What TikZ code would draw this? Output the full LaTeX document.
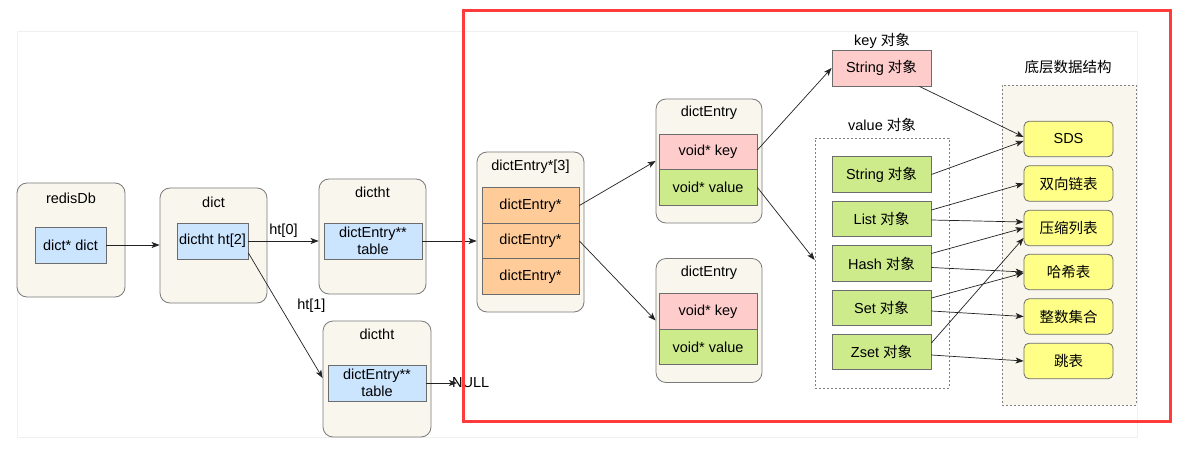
\documentclass[tikz,border=0pt]{standalone}
\usepackage{fontspec}
\setmainfont{Liberation Sans}
\newfontfamily\cjk{Noto Sans CJK SC}
\usepackage{xcolor}
\usetikzlibrary{positioning, arrows.meta}

\definecolor{boxbg}{HTML}{F9F7ED}
\definecolor{boxline}{HTML}{7A7A7A}
\definecolor{cellline}{HTML}{6C6C6C}
\definecolor{cellblue}{HTML}{CCE5FF}
\definecolor{cellorange}{HTML}{FFCC99}
\definecolor{cellpink}{HTML}{FFCCCC}
\definecolor{cellgreen}{HTML}{CDEB8B}
\definecolor{cellyellow}{HTML}{FFFF88}
\definecolor{linec}{HTML}{222222}
\definecolor{redframe}{HTML}{FF3B3B}

\newcommand{\dxiang}{{\cjk 对象}}

\begin{document}
\begin{tikzpicture}[x=1pt, y=-1pt, font=\fontsize{14.5}{17}\selectfont,
	frame/.style={draw=boxline, fill=boxbg, rounded corners=10pt, line width=0.8pt},
	cell/.style={draw=cellline, line width=0.8pt, inner sep=0pt, align=center},
	title/.style={inner sep=1pt},
	dbox/.style={draw=gray, dash pattern=on 2pt off 2pt, line width=0.8pt},
	arr/.style={draw=linec, line width=0.7pt, -{Stealth[length=8pt, width=6pt, inset=2pt]}}]
	\useasboundingbox (0,0) rectangle (1191,465);
	\fill[white] (0,0) rectangle (1191,465);
	\draw[black!6, fill=white, line width=1pt] (17,32) rectangle (1137,437);

	% redisDb / dict
	\node[frame, minimum width=108pt, minimum height=114pt] (redisdb) at (71,240) {};
	\node[title] (redisdbT) at (71,198) {redisDb};
	\node[cell, fill=cellblue, minimum width=71pt, minimum height=36pt] (dictptr) at (70.5,245) {dict* dict};

	\node[frame, minimum width=107pt, minimum height=115pt] (dict) at (213.5,245.5) {};
	\node[title] (dictT) at (213.5,202) {dict};
	\node[cell, fill=cellblue, minimum width=71pt, minimum height=36pt] (ht) at (212.5,241) {dictht ht[2]};

	% dictht
	\node[frame, minimum width=107pt, minimum height=115pt] (dictht0) at (372.5,236.5) {};
	\node[title] (dictht0T) at (372.5,192) {dictht};
	\node[cell, fill=cellblue, minimum width=98pt, minimum height=36pt] (table0) at (373,241) {dictEntry**\\table};

	\node[frame, minimum width=108pt, minimum height=116pt] (dictht1) at (377,379) {};
	\node[title] (dictht1T) at (377,334) {dictht};
	\node[cell, fill=cellblue, minimum width=98pt, minimum height=36pt] (table1) at (377,383) {dictEntry**\\table};
	\node[inner sep=0pt, anchor=west] (null) at (452,383) {NULL};

	% dictEntry*[3]
	\node[frame, minimum width=107pt, minimum height=160pt] (entries) at (530.5,232) {};
	\node[title] (entriesT) at (530.5,167) {dictEntry*[3]};
	\foreach \i/\y in {1/205.5, 2/241, 3/276.5}
		\node[cell, fill=cellorange, minimum width=97pt, minimum height=35.5pt] (slot\i) at (530.5,\y) {dictEntry*};

	% dictEntry
	\foreach \n/\y in {A/0, B/159.5} {
		\node[frame, minimum width=106pt, minimum height=124pt] (ent\n) at (709,161+\y) {};
		\node[title] (ent\n T) at (709,113+\y) {dictEntry};
		\node[cell, fill=cellpink, minimum width=98pt, minimum height=35.5pt] (key\n) at (708,152+\y) {void* key};
		\node[cell, fill=cellgreen, minimum width=98pt, minimum height=35.5pt] (val\n) at (708,187.5+\y) {void* value};
	}

	% key / value objects
	\node[title] (keyT) at (882,41) {key \dxiang};
	\node[cell, fill=cellpink, minimum width=99pt, minimum height=36pt] (keystr) at (881.5,68) {String \dxiang};
	\node[title] (valT) at (882,125) {value \dxiang};
	\node[dbox, minimum width=134pt, minimum height=250pt] (valbox) at (882,263) {};
	\foreach \n/\t/\y in {strv/String/174.5, listv/List/219, hashv/Hash/263.5, setv/Set/308, zsetv/Zset/352}
		\node[cell, fill=cellgreen, minimum width=99pt, minimum height=35.5pt] (\n) at (881.5,\y) {\t{} \dxiang};

	% encodings
	\node[title] (encT) at (1068,67) {\cjk 底层数据结构};
	\node[dbox, fill=boxbg, minimum width=134pt, minimum height=320pt] (encbox) at (1069,245) {};
	\foreach \n/\t/\y in {sds/SDS/139, linked/{\cjk 双向链表}/183.5, ziplist/{\cjk 压缩列表}/228,
		hashtab/{\cjk 哈希表}/272, intset/{\cjk 整数集合}/316.5, skiplist/{\cjk 跳表}/361}
		\node[cell, fill=cellyellow, rounded corners=5pt, minimum width=89pt, minimum height=35.5pt] (\n) at (1068.5,\y) {\t};

	% connectors
	\draw[arr] (dictptr.east) -- (dictptr.east -| dict.west);
	\draw[arr] (ht.east) -- (ht.east -| dictht0.west) node[midway, above] {ht[0]};
	\draw[arr] ([yshift=-12pt]ht.east) -- ([yshift=5pt]table1.west -| dictht1.west)
		node[pos=0.42, anchor=west, xshift=14pt] {ht[1]};
	\draw[arr] (table1.east) -- ([xshift=5pt]null.west);
	\draw[arr] (table0.east) -- (table0.east -| entries.west);
	\draw[arr] (slot1.east) -- (entA.west);
	\draw[arr] (slot2.east) -- (entB.west);
	\draw[arr] ([yshift=2pt]keyA.east) -- (keystr.west);
	\draw[arr] (valA.east) -- ([yshift=3pt]valbox.west);

	\draw[arr] (keystr) -- ([yshift=2pt]sds.west);
	\draw[arr] (strv.east) -- ([yshift=-2pt]sds.west);
	\draw[arr] ([yshift=9pt]listv.east) -- (linked.west);
	\draw[arr] ([yshift=-1pt]listv.east) -- ([yshift=6pt]ziplist.west);
	\draw[arr] ([yshift=10pt]hashv.east) -- (ziplist.west);
	\draw[arr] ([yshift=-4pt]hashv.east) -- (hashtab.west);
	\draw[arr] ([yshift=10pt]setv.east) -- ([yshift=-1pt]hashtab.west);
	\draw[arr] ([yshift=-3pt]setv.east) -- (intset.west);
	\draw[arr] ([yshift=9pt]zsetv.east) -- ([yshift=-10pt]ziplist.west);
	\draw[arr] ([yshift=-3pt]zsetv.east) -- (skiplist.west);

	\draw[redframe, line width=3pt] (463,11) rectangle (1170,421);
\end{tikzpicture}
\end{document}
